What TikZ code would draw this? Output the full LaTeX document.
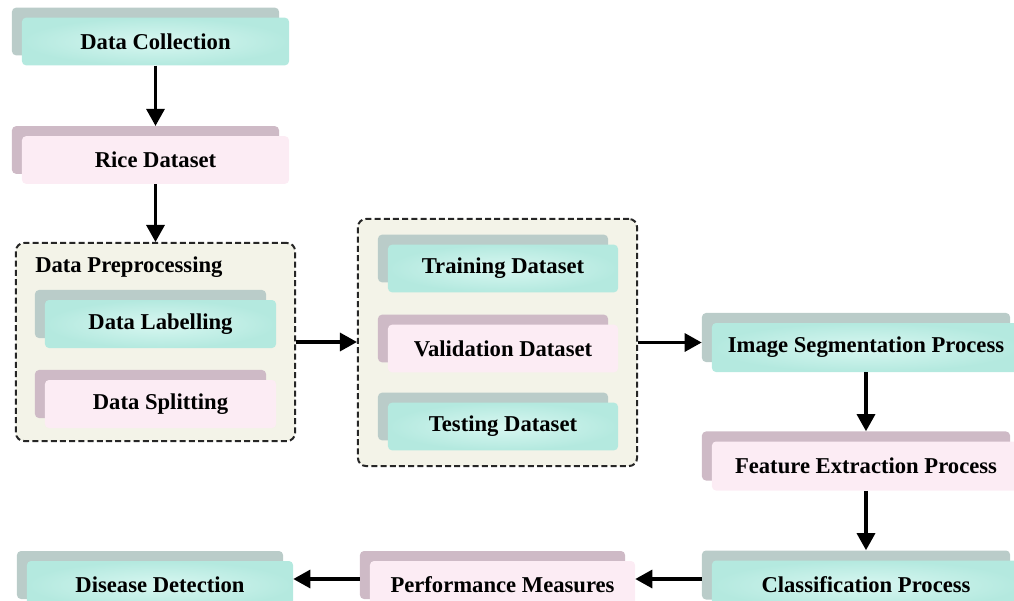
\documentclass[tikz,border=0pt]{standalone}
\usepackage{fontspec}
\setmainfont{Liberation Serif}
\usetikzlibrary{arrows.meta,shadows}
\definecolor{tealin}{RGB}{216,247,241}
\definecolor{tealout}{RGB}{180,233,223}
\definecolor{tealsh}{RGB}{186,204,201}
\definecolor{pinkfr}{RGB}{252,236,244}
\definecolor{pinksh}{RGB}{206,186,198}
\definecolor{beige}{RGB}{243,243,232}
\tikzset{
  dob/.style={rounded corners=0.1cm,inner sep=0pt,align=center},
  tdob/.style={dob,inner color=tealin,outer color=tealout,
    general shadow={fill=tealsh,shadow xshift=-0.25cm,shadow yshift=0.25cm}},
  pdob/.style={dob,fill=pinkfr,
    general shadow={fill=pinksh,shadow xshift=-0.25cm,shadow yshift=0.25cm}},
  wtop/.style={minimum width=6.675cm,minimum height=1.19cm},
  wprep/.style={minimum width=5.775cm,minimum height=1.2cm},
  wset/.style={minimum width=5.75cm,minimum height=1.19cm},
  wright/.style={minimum width=7.7cm,minimum height=1.225cm},
  grp/.style={draw=black!85,fill=beige,line width=0.05cm,
    dash pattern=on 0.15cm off 0.08cm,rounded corners=0.2cm},
  arr/.style={-{Triangle[length=0.425cm,width=0.45cm]},line width=0.08cm},
}
\begin{document}
\begin{tikzpicture}[x=0.025cm,y=-0.025cm,font=\fontsize{16.1}{19}\selectfont\bfseries]
  \useasboundingbox (0,0) rectangle (1014,600);
  \clip (0,0) rectangle (1014,600);
  % dashed groups
  \node[grp,minimum width=6.975cm,minimum height=4.95cm] (prep) at (155.5,342) {};
  \node[grp,minimum width=6.975cm,minimum height=6.175cm] (dset) at (497.5,342.5) {};
  \node[anchor=west,inner sep=0pt] (preptit) at (35,267) {Data Preprocessing};
  % boxes
  \node[tdob,wtop] (dc) at (155.5,41.5) {Data Collection};
  \node[pdob,wtop] (rice) at (155.5,160) {Rice Dataset};
  \node[tdob,wprep] (lab) at (160.5,324) {Data Labelling};
  \node[pdob,wprep] (spl) at (160.5,404) {Data Splitting};
  \node[tdob,wset] (tr) at (503,268.5) {Training Dataset};
  \node[pdob,wset] (va) at (503,348.5) {Validation Dataset};
  \node[tdob,wset] (te) at (503,426.5) {Testing Dataset};
  \node[tdob,wright] (seg) at (866,347.5) {Image Segmentation Process};
  \node[pdob,wright] (fe) at (866,466) {Feature Extraction Process};
  \node[tdob,wright] (cl) at (866,585) {Classification Process};
  \node[pdob,minimum width=6.625cm,minimum height=1.2cm] (pm) at (502.5,585) {Performance Measures};
  \node[tdob,minimum width=6.65cm,minimum height=1.2cm] (dd) at (160,585) {Disease Detection};
  % arrows
  \draw[arr,shorten >=0.25cm] (dc) -- (rice);
  \draw[arr] (rice) -- (prep);
  \draw[arr] (prep.east) -- (prep.east -| dset.west);
  \draw[arr,shorten >=0.25cm] (dset.east) -- (dset.east -| seg.west);
  \draw[arr,shorten >=0.25cm] (seg) -- (fe);
  \draw[arr,shorten >=0.25cm] (fe) -- (cl);
  \draw[arr] ([xshift=-0.25cm,yshift=0.15cm]cl.west) -- ([yshift=0.15cm]pm.east);
  \draw[arr] ([xshift=-0.25cm,yshift=0.15cm]pm.west) -- ([yshift=0.15cm]dd.east);
\end{tikzpicture}
\end{document}
